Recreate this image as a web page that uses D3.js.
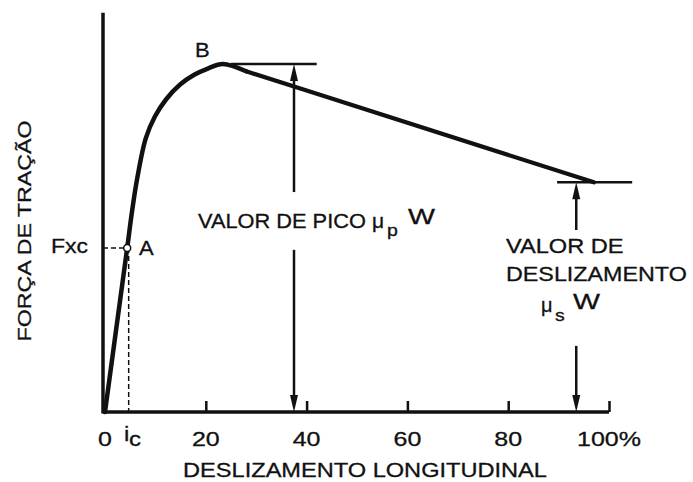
<!DOCTYPE html>
<html>
<head>
<meta charset="utf-8">
<script src="https://cdn.jsdelivr.net/npm/d3@7"></script>
<style>
  html, body { margin: 0; padding: 0; background: #fff; }
  svg { display: block; font-family: "Liberation Sans", Arial, Helvetica, sans-serif; }
  text { fill: #111; stroke: #111; stroke-width: 0.3; }
</style>
</head>
<body>
<div id="chart"></div>
<script>
// slip (%) and traction force (peak = 100)
const curveX = [0, 2.2, 4.4, 5.4, 6.4, 8.1, 9.9, 12.1, 14.9, 17.7, 20.4, 23.4, 28, 40, 97];
const curveY = [0, 23.6, 47.1, 58, 67.2, 78.7, 84.9, 89.8, 94.1, 96.9, 98.7, 100, 97.9, 92.4, 66];
const tickValues = [0, 20, 40, 60, 80, 100];
const tickLabels = ["0", "20", "40", "60", "80", "100%"];
const peakValue = 100, slideValue = 66, fxc = 47.1, ic = 4.4;
const peakArrowX = 37.5, slideArrowX = 93.5;
const peakLineX = [25, 42], slideLineX = [89.7, 104.6];
const yTop = 114.7;

const width = 693, height = 482;
const svg = d3.select("#chart").append("svg").attr("width", width).attr("height", height);

const x = d3.scaleLinear().domain([0, 100]).range([105, 609]);
const y = d3.scaleLinear().domain([0, 100]).range([412, 64]);
const axisLeft = 103;

function label(t, px, py, o = {}) {
  const sx = o.sx || 1.18;
  return svg.append("text")
    .attr("transform", `translate(${px},${py})${o.rot ? ` rotate(${o.rot})` : ""} scale(${sx},1)`)
    .attr("text-anchor", o.anchor || "start")
    .attr("font-size", o.size || 20)
    .text(t);
}

// axes
svg.append("line").attr("x1", axisLeft).attr("x2", axisLeft).attr("y1", y(0) + 1.5).attr("y2", y(yTop))
  .attr("stroke", "#111").attr("stroke-width", 3.5);
svg.append("line").attr("x1", axisLeft).attr("x2", x(100)).attr("y1", y(0)).attr("y2", y(0))
  .attr("stroke", "#111").attr("stroke-width", 3.5);

svg.append("g")
  .attr("transform", `translate(0,${y(0)})`)
  .call(d3.axisBottom(x).tickValues(tickValues.slice(1)).tickSize(-11).tickSizeOuter(0).tickFormat(""))
  .call(g => g.select(".domain").remove())
  .call(g => g.selectAll(".tick line").attr("stroke", "#111").attr("stroke-width", 2.5));

tickValues.forEach((v, i) => label(tickLabels[i], x(v), 446, { anchor: "middle", sx: 1.25 }));

// curve: smooth rise to the peak, then straight fall to the sliding value
const pts = curveX.map((v, i) => [v, curveY[i]]);
const peakIdx = curveY.indexOf(peakValue);
const line = d3.line().x(d => x(d[0])).y(d => y(d[1]));
svg.append("path")
  .datum(pts.slice(0, peakIdx + 2))
  .attr("fill", "none")
  .attr("stroke", "#111")
  .attr("stroke-width", 4.5)
  .attr("stroke-linecap", "round")
  .attr("d", line.curve(d3.curveCatmullRom.alpha(0.5)));
svg.append("path")
  .datum(pts.slice(peakIdx + 1))
  .attr("fill", "none")
  .attr("stroke", "#111")
  .attr("stroke-width", 4.2)
  .attr("stroke-linecap", "round")
  .attr("d", line.curve(d3.curveLinear));

// reference levels
[[peakLineX, peakValue], [slideLineX, slideValue]].forEach(([xs, v]) => {
  svg.append("line").attr("x1", x(xs[0])).attr("x2", x(xs[1])).attr("y1", y(v)).attr("y2", y(v))
    .attr("stroke", "#111").attr("stroke-width", 2.5);
});

function arrow(xv, from, to) {
  const px = x(xv), y0 = y(from), y1 = y(to), dir = y1 < y0 ? 1 : -1;
  svg.append("line").attr("x1", px).attr("x2", px).attr("y1", y0).attr("y2", y1 + dir * 10)
    .attr("stroke", "#111").attr("stroke-width", 2.5);
  svg.append("path")
    .attr("d", `M${px},${y1}L${px - 4},${y1 + dir * 17}L${px + 4},${y1 + dir * 17}Z`)
    .attr("fill", "#111");
}
arrow(peakArrowX, 63.2, peakValue);
arrow(peakArrowX, 46.6, 0);
arrow(slideArrowX, 52.3, slideValue);
arrow(slideArrowX, 19, 0);

// point A, dashed guides
svg.append("line").attr("x1", axisLeft).attr("x2", x(ic)).attr("y1", y(fxc)).attr("y2", y(fxc))
  .attr("stroke", "#111").attr("stroke-width", 1.5).attr("stroke-dasharray", "5,3");
svg.append("line").attr("x1", x(ic) + 1.5).attr("x2", x(ic) + 1.5).attr("y1", y(fxc)).attr("y2", y(0))
  .attr("stroke", "#111").attr("stroke-width", 1.5).attr("stroke-dasharray", "5,3");
svg.append("circle").attr("cx", x(ic)).attr("cy", y(fxc)).attr("r", 3.5)
  .attr("fill", "#fff").attr("stroke", "#111").attr("stroke-width", 1.5);

label("Fxc", 88, 253, { anchor: "end", sx: 1.15 });
label("A", 139, 255, { sx: 1.1 });
label("B", 195, 57, { sx: 1.1 });
label("i", 124, 441, { sx: 1.2 });
label("c", 129, 446, { sx: 1.2 });

// axis titles
label("DESLIZAMENTO LONGITUDINAL", 365, 477, { anchor: "middle", size: 20, sx: 1.18 });
label("FORÇA DE TRAÇÃO", 31, 231, { anchor: "middle", size: 19, rot: -90, sx: 1.22 });

// annotations
label("VALOR DE PICO", 198, 228, { sx: 1.09 });
label("μ", 372, 228, { sx: 1.05 });
label("p", 387, 236, { size: 17, sx: 1.15 });
label("W", 408, 224, { size: 22, sx: 1.3 });

label("VALOR DE", 506, 253, { sx: 1.18 });
label("DESLIZAMENTO", 506, 281, { sx: 1.165 });
label("μ", 541, 312, { sx: 1.0 });
label("s", 555, 321, { size: 17, sx: 1.15 });
label("W", 573, 309, { size: 22, sx: 1.3 });
</script>
</body>
</html>
